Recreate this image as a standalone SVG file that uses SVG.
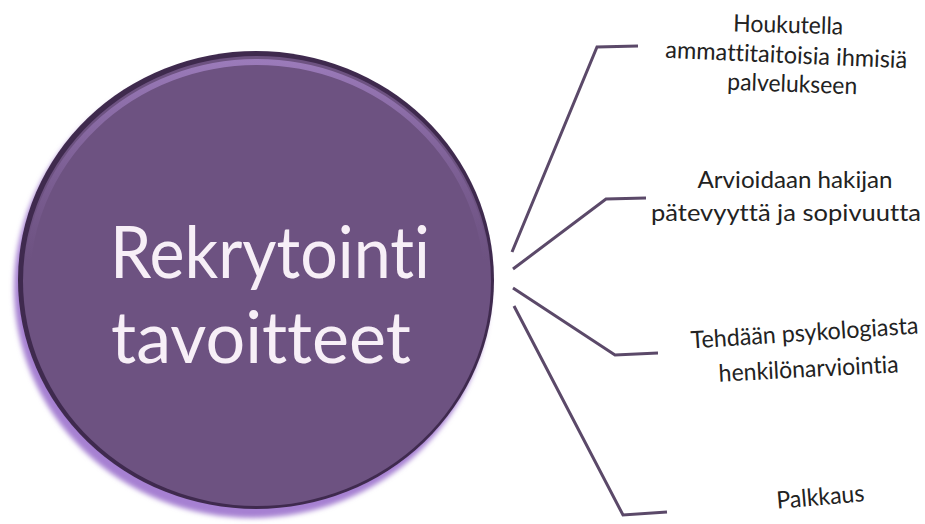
<svg xmlns="http://www.w3.org/2000/svg" width="925" height="524" viewBox="0 0 925 524">
  <defs>
    <style>
      text { font-variant-ligatures: none; font-feature-settings: "liga" 0, "clig" 0, "dlig" 0; }
      .hub-text { font-family: Lato, "Open Sans", "Liberation Sans", sans-serif; font-size: 71px; fill: #f7eff7; }
      .label { font-family: Lato, "Open Sans", "Liberation Sans", sans-serif; font-size: 24px; fill: #222222; text-anchor: middle; }
      .connector { fill: none; stroke: #5b4969; stroke-width: 3; stroke-linejoin: miter; stroke-linecap: butt; }
    </style>
    <filter id="soft" x="-10%" y="-10%" width="120%" height="120%">
      <feGaussianBlur stdDeviation="2.5"/>
    </filter>
    <linearGradient id="rimLight" x1="0" y1="0" x2="0" y2="1">
      <stop offset="0" stop-color="#a07fc0" stop-opacity="0.9"/>
      <stop offset="0.45" stop-color="#8a6aa6" stop-opacity="0"/>
    </linearGradient>
  </defs>

  <rect width="925" height="524" fill="#ffffff"/>

  <!-- central disc -->
  <g id="hub">
    <ellipse cx="252" cy="288" rx="238" ry="230" fill="#a680d2" filter="url(#soft)"/>
    <ellipse cx="256" cy="280" rx="238" ry="229" fill="#3f2a4e"/>
    <ellipse cx="257" cy="281" rx="234" ry="225" fill="#6d5281"/>
    <ellipse cx="257" cy="283" rx="230" ry="221" fill="none" stroke="url(#rimLight)" stroke-width="6"/>
    <text class="hub-text" x="110" y="278" textLength="320" lengthAdjust="spacingAndGlyphs">Rekrytointi</text>
    <text class="hub-text" x="111" y="363" textLength="300" lengthAdjust="spacingAndGlyphs">tavoitteet</text>
  </g>

  <!-- connectors from the disc to the goals -->
  <g id="connectors">
    <path class="connector" d="M512,252 L597,47 L638,46"/>
    <path class="connector" d="M513,269 L606,199 L646,198"/>
    <path class="connector" d="M513,288 L615,355 L658,353"/>
    <path class="connector" d="M514,306 L623,515 L667,512"/>
  </g>

  <g id="goal-attract">
    <text class="label" x="788" y="33" transform="rotate(1.5 788 33)" textLength="110" lengthAdjust="spacingAndGlyphs">Houkutella</text>
    <text class="label" x="786" y="63" transform="rotate(2.5 786 63)" textLength="242" lengthAdjust="spacingAndGlyphs">ammattitaitoisia ihmisiä</text>
    <text class="label" x="792" y="92" transform="rotate(2 792 92)" textLength="130" lengthAdjust="spacingAndGlyphs">palvelukseen</text>
  </g>

  <g id="goal-assess">
    <text class="label" x="795" y="188" textLength="195" lengthAdjust="spacingAndGlyphs">Arvioidaan hakijan</text>
    <text class="label" x="786" y="221" textLength="270" lengthAdjust="spacingAndGlyphs">pätevyyttä ja sopivuutta</text>
  </g>

  <g id="goal-psych">
    <text class="label" x="805" y="341" transform="rotate(-3.8 805 341)" textLength="228" lengthAdjust="spacingAndGlyphs">Tehdään psykologiasta</text>
    <text class="label" x="809" y="377" transform="rotate(-3 809 377)" textLength="180" lengthAdjust="spacingAndGlyphs">henkilönarviointia</text>
  </g>

  <g id="goal-pay">
    <text class="label" x="821" y="505" transform="rotate(-5 821 505)" textLength="88" lengthAdjust="spacingAndGlyphs">Palkkaus</text>
  </g>
</svg>
